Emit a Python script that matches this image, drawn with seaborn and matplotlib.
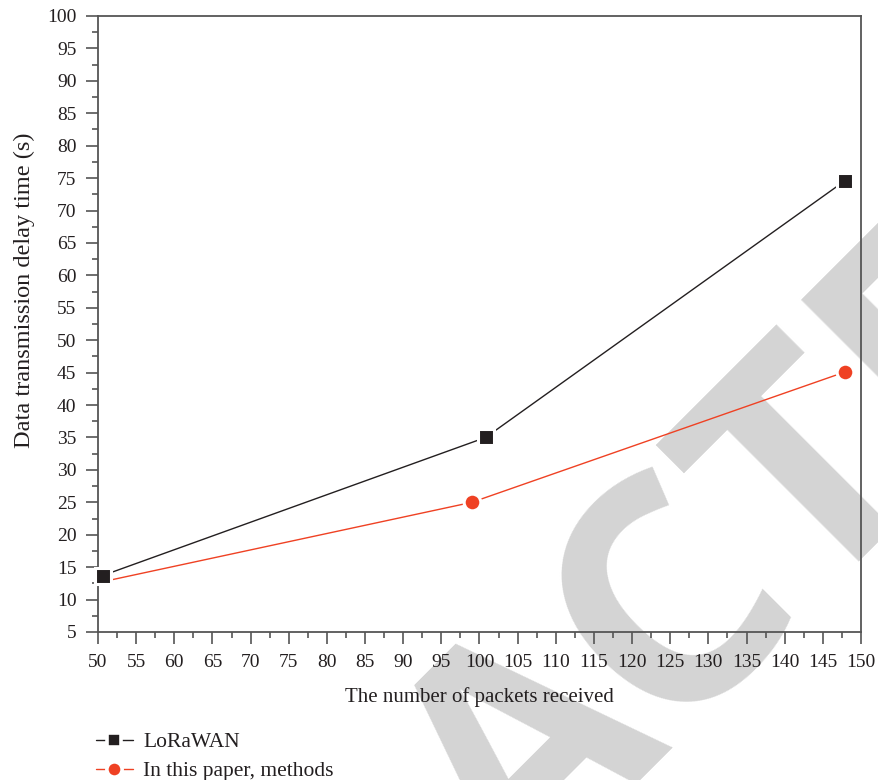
import matplotlib
matplotlib.use("Agg")
import matplotlib.pyplot as plt
import seaborn as sns
import pandas as pd
from matplotlib.lines import Line2D
from matplotlib.ticker import MultipleLocator

# Measured delay for each scheme
packets_lorawan = [50.6, 100.8, 147.9]
delay_lorawan = [13.7, 35.0, 74.6]
packets_method = [50.0, 99.0, 147.9]
delay_method = [12.6, 25.0, 45.1]
series_names = ["LoRaWAN", "In this paper, methods"]
x_ticks = list(range(50, 151, 5))
y_ticks = list(range(5, 101, 5))

sns.set_theme(style="white")
plt.rcParams["font.family"] = ["Liberation Serif", "DejaVu Serif"]

black = "#231f20"
red = "#ef4123"
ink = "#231f20"
frame = "#555555"

fig = plt.figure(figsize=(8.79, 7.80), dpi=100)
ax = fig.add_axes([98 / 879, 1 - 632 / 780, (861 - 98) / 879, (632 - 16) / 780])
ax.set_facecolor("none")

# Diagonal retraction stamp, kept underneath the plot
fig.text(534 / 879, 1 - 742 / 780, "RETRACTED", fontsize=228, color="#d4d4d4",
         family="Open Sans", weight="bold", rotation=45,
         rotation_mode="anchor", ha="center", va="center", zorder=-1)

df_l = pd.DataFrame({"x": packets_lorawan, "y": delay_lorawan})
df_m = pd.DataFrame({"x": packets_method, "y": delay_method})

sns.lineplot(data=df_m, x="x", y="y", ax=ax, color=red, lw=1.0,
             marker="o", markersize=12, markeredgecolor="white",
             markeredgewidth=2.2, markevery=[1, 2], zorder=3, clip_on=False)
sns.lineplot(data=df_l, x="x", y="y", ax=ax, color=black, lw=1.0,
             marker="s", markersize=11, markeredgecolor="white",
             markeredgewidth=2.2, zorder=4, clip_on=False)

ax.set_xlim(50, 150)
ax.set_ylim(5, 100)
ax.set_xticks(x_ticks)
ax.set_yticks(y_ticks)
ax.xaxis.set_minor_locator(MultipleLocator(2.5))
ax.yaxis.set_minor_locator(MultipleLocator(2.5))
ax.tick_params(which="major", direction="out", length=8.5, width=1.2,
               color=frame, labelsize=14, labelcolor=ink,
               bottom=True, left=True, pad=7)
ax.tick_params(which="minor", direction="out", length=4, width=1.2,
               color=frame, bottom=True, left=True)
for s in ax.spines.values():
    s.set_color(frame)
    s.set_linewidth(1.3)

ax.set_xlabel("The number of packets received", fontsize=15,
              color=ink, labelpad=12)
ax.set_ylabel("Data transmission delay time (s)", fontsize=17.5, color=ink)
ax.yaxis.set_label_coords(-0.082, 0.555)

handles = [
    Line2D([], [], color=black, lw=1.0, marker="s", markersize=10,
           markeredgecolor="white", markeredgewidth=2.6),
    Line2D([], [], color=red, lw=1.0, marker="o", markersize=11,
           markeredgecolor="white", markeredgewidth=2.6),
]
fig.legend(handles, series_names, loc="upper left",
           bbox_to_anchor=(96 / 879, 1 - 732 / 780), frameon=False,
           fontsize=15.5, handlelength=1.7, handletextpad=0.5,
           labelspacing=0.42, borderpad=0, borderaxespad=0,
           labelcolor=ink)

fig.savefig("out.png", dpi=100)
